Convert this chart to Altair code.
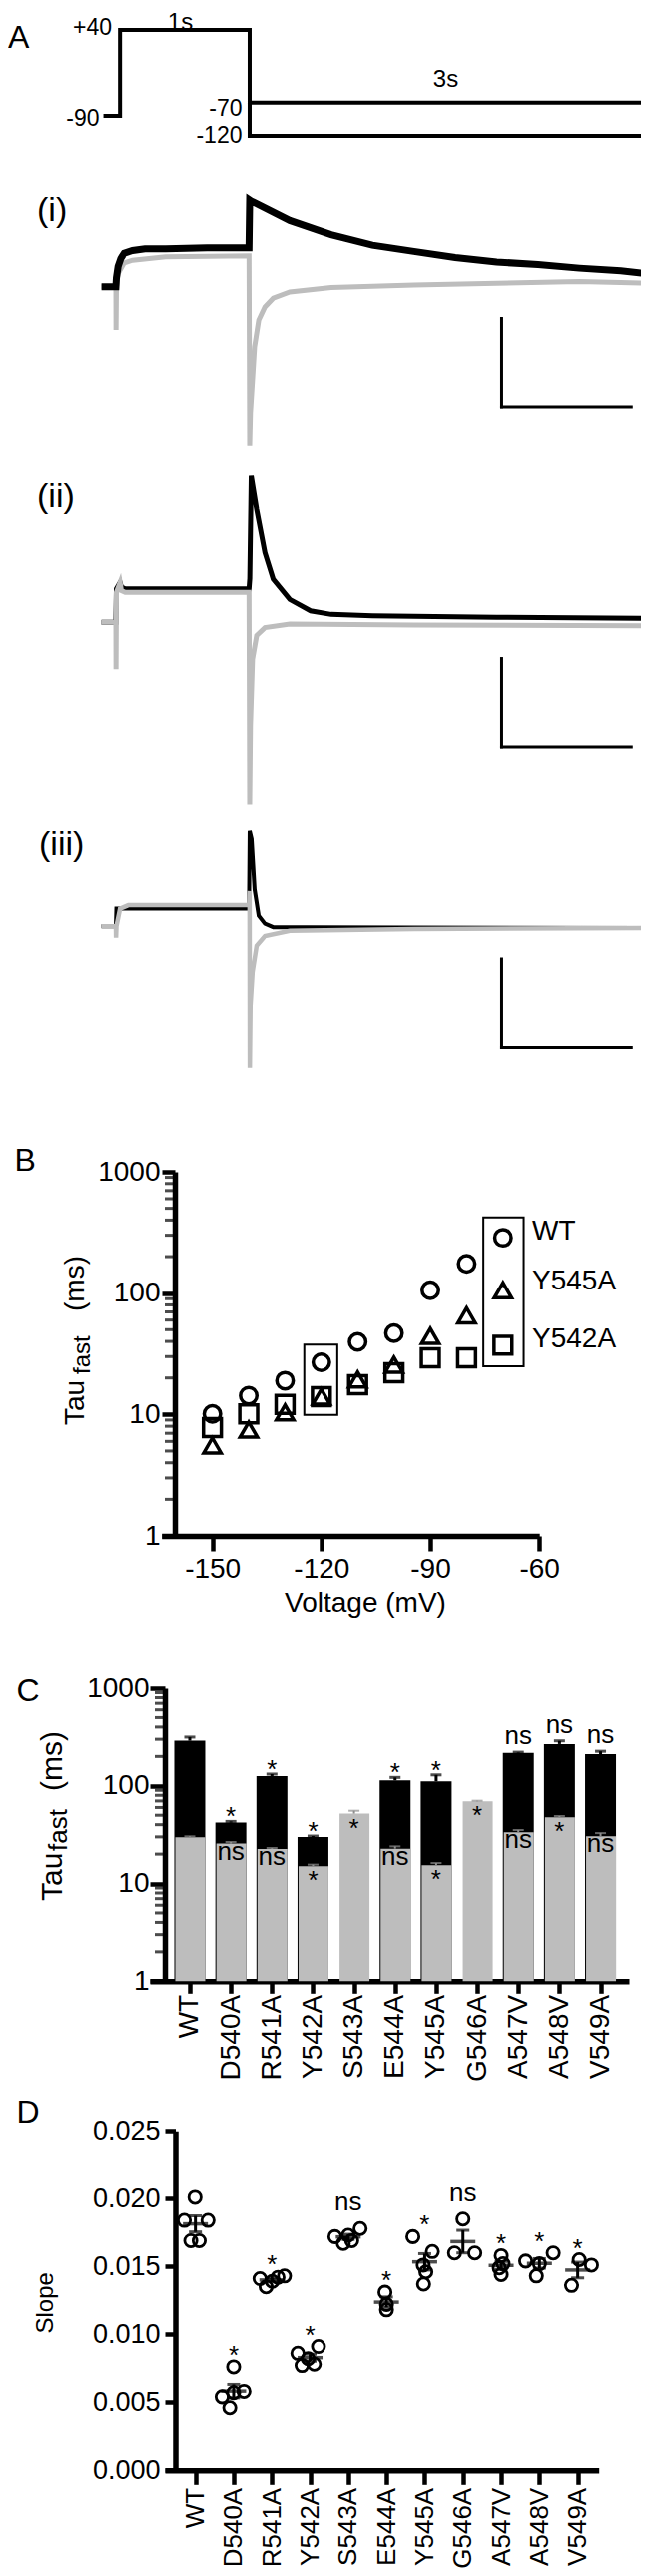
import altair as alt
import pandas as pd

OFF = 8
W = 650 - 2 * OFF
H = 2579 - 2 * OFF
FONT = "Liberation Sans"
GRAY = "#bdbdbd"


def px(v):
    return v - OFF


# ---------------- Panel A: voltage protocol (ms, mV) ----------------
PROT_STEP_T = [-128, 0, 0, 1000, 1000, 4040]
PROT_STEP_V = [-90, -90, 40, 40, -70, -70]
PROT_HYP_T = [1000, 1000, 4040]
PROT_HYP_V = [-70, -120, -120]

# ---------------- Panel A: current traces (ms, current in scale-bar units) ----------------
TR1_BLACK_T = [-143, -32, -28, -15, 6, 32, 96, 192, 351, 671, 995, 1000, 1010, 1054, 1310, 1629, 1948, 2268, 2587, 2907, 3226, 3545, 3865, 4057]
TR1_BLACK_I = [0, 0, 0.10, 0.23, 0.32, 0.38, 0.41, 0.43, 0.43, 0.44, 0.44, 0.98, 0.97, 0.94, 0.75, 0.59, 0.47, 0.40, 0.33, 0.28, 0.25, 0.21, 0.18, 0.15]
TR1_GRAY_T = [-143, -32, -31, -28, -15, 32, 96, 351, 995, 1000, 1006, 1022, 1038, 1070, 1118, 1182, 1310, 1629, 2268, 2907, 3545, 4041, 4051]
TR1_GRAY_I = [0, 0, -0.49, 0.0, 0.15, 0.27, 0.30, 0.34, 0.35, -1.81, -1.43, -1.06, -0.68, -0.38, -0.23, -0.13, -0.06, -0.01, 0.02, 0.04, 0.06, 0.04, -0.15]
TR2_BLACK_T = [-143, -32, -28, 0, 10, 40, 995, 1001, 1012, 1054, 1118, 1182, 1310, 1470, 1629, 1948, 2907, 4041]
TR2_BLACK_I = [0, 0, 0.38, 0.45, 0.40, 0.38, 0.38, 0.50, 1.66, 1.28, 0.79, 0.49, 0.26, 0.13, 0.09, 0.075, 0.057, 0.045]
TR2_GRAY_T = [-143, -32, -31, -28, 0, 10, 40, 995, 1000, 1006, 1022, 1054, 1118, 1310, 2268, 4041, 4051]
TR2_GRAY_I = [0, 0, -0.53, 0.34, 0.45, 0.36, 0.34, 0.34, -2.06, -1.17, -0.42, -0.15, -0.06, -0.02, -0.03, -0.04, -0.23]
TR3_BLACK_T = [-143, -32, -28, 995, 1000, 1015, 1038, 1070, 1118, 1182, 1438, 4041]
TR3_BLACK_I = [0, 0, 0.20, 0.20, 1.08, 0.99, 0.42, 0.12, 0.03, -0.01, -0.01, -0.02]
TR3_GRAY_T = [-143, -32, -31, -28, 0, 64, 995, 999, 1001, 1006, 1022, 1054, 1118, 1310, 2268, 4041, 4051]
TR3_GRAY_I = [0, 0, -0.13, 0.0, 0.20, 0.24, 0.24, 0.40, -1.60, -0.90, -0.52, -0.22, -0.11, -0.05, -0.03, -0.02, -0.09]
SCALEBAR_T = [2945, 3945]          # 1 s horizontal bar
SCALEBAR_TOP = [-0.36, -0.41, -0.37]  # vertical bar = 1 unit

# ---------------- Panel B: tau_fast vs voltage ----------------
VOLTAGES = [-150, -140, -130, -120, -110, -100, -90, -80, -70]
TAU_WT = [10.1, 14.3, 19.0, 26.9, 39.7, 46.8, 105.6, 174.6, 286.0]
TAU_Y545A = [5.55, 7.5, 10.4, 14.0, 19.4, 25.7, 44.4, 65.6, 105.6]
TAU_Y542A = [7.8, 10.1, 12.1, 14.0, 17.6, 22.1, 29.3, 29.3, 37.2]
BOX_M70 = [-75.4, -64.3, 25.0, 420.0]
BOX_M120 = [-124.7, -115.6, 9.9, 37.7]
B_TICKS_X = [-150, -120, -90, -60]
LOG_MAJOR = [1, 10, 100, 1000]
LOG_MINOR = [2, 3, 4, 5, 6, 7, 8, 9, 20, 30, 40, 50, 60, 70, 80, 90, 200, 300, 400, 500, 600, 700, 800, 900]

# ---------------- Panel C: tau at -70 (black) and -120 mV (grey) ----------------
MUTANTS = ['WT', 'D540A', 'R541A', 'Y542A', 'S543A', 'E544A', 'Y545A', 'G546A', 'A547V', 'A548V', 'V549A']
TAU70 = [289.6, 42.0, 126.0, 29.9, None, 113.7, 111.2, None, 218.0, 268.0, 211.0]
TAU70_ERR = [315.8, 43.2, 132.0, 30.6, None, 122.0, 129.5, None, 221.0, 289.0, 226.0]
TAU120 = [29.7, 25.6, 22.6, 15.0, 51.9, 22.7, 15.4, 69.3, 33.4, 47.6, 30.4]
TAU120_ERR = [30.4, 26.6, 23.1, 15.6, 55.6, 24.0, 16.2, 70.4, 35.3, 49.1, 32.8]
SIG70 = ['', '*', '*', '*', '', '*', '*', '', 'ns', 'ns', 'ns']
SIG120 = ['', 'ns', 'ns', '*', '*', 'ns', '*', '*', 'ns', '*', 'ns']

# ---------------- Panel D: slope ----------------
SLOPES = [
    [0.0201, 0.0184, 0.0184, 0.0169, 0.0169],
    [0.0076, 0.0058, 0.0057, 0.0054, 0.0046],
    [0.0141, 0.0135, 0.0142, 0.0143, 0.0139],
    [0.0086, 0.0091, 0.0082, 0.0077, 0.0078],
    [0.0172, 0.0167, 0.0169, 0.0178, 0.0173],
    [0.0131, 0.0122, 0.0118],
    [0.0172, 0.0161, 0.0151, 0.0146, 0.0137],
    [0.0185, 0.0160, 0.0160],
    [0.0158, 0.0152, 0.0149, 0.0144],
    [0.0154, 0.0143, 0.0160, 0.0152],
    [0.0136, 0.0155, 0.0151],
]
JITTER = [
    [-0.01, -0.29, 0.33, -0.12, 0.10],
    [0.0, 0.27, 0.0, -0.30, -0.10],
    [-0.31, -0.15, 0.16, 0.33, 0.01],
    [-0.32, 0.22, -0.05, -0.21, 0.11],
    [-0.35, -0.13, 0.09, 0.31, 0.0],
    [-0.04, 0.0, 0.0],
    [-0.31, 0.20, -0.04, 0.03, -0.03],
    [0.0, -0.22, 0.31],
    [0.0, 0.05, -0.05, 0.0],
    [-0.36, -0.08, 0.36, 0.0],
    [-0.16, 0.04, 0.36],
]
SIGD = ['', '*', '*', '*', 'ns', '*', '*', 'ns', '*', '*', '*']
D_TICKS_Y = [0.0, 0.005, 0.010, 0.015, 0.020, 0.025]

# ================= common styles =================
AX = dict(domainColor='black', domainWidth=5.5, tickColor='black', tickWidth=4.5,
          labelColor='black', labelFont=FONT, grid=False, title=None,
          labelFlush=False, labelOverlap=False)
CAT_EXPR = "[" + ",".join("'%s'" % m for m in MUTANTS) + "][datum.value]"
NEG_EXPR = "datum.value < 0 ? '-' + abs(datum.value) : '' + datum.value"
PLAIN_EXPR = "'' + datum.value"

# ================= Panel A: protocol =================
t_scale = alt.Scale(domain=[-200, 4100], range=[px(94.2), px(652.4)], zero=False, nice=False)
v_scale = alt.Scale(domain=[-130, 50], range=[px(142.5), px(23.4)], zero=False, nice=False)
prot_df = pd.DataFrame({
    'seg': ['step'] * len(PROT_STEP_T) + ['hyp'] * len(PROT_HYP_T),
    't': PROT_STEP_T + PROT_HYP_T,
    'v': PROT_STEP_V + PROT_HYP_V,
    'ord': list(range(len(PROT_STEP_T))) + list(range(len(PROT_HYP_T))),
})
protocol = alt.Chart(prot_df).mark_line(color='black', strokeWidth=4).encode(
    x=alt.X('t:Q', scale=t_scale, axis=None),
    y=alt.Y('v:Q', scale=v_scale, axis=None),
    detail='seg:N', order='ord:Q')

# ================= Panel A: traces =================
PX_PER_UNIT = 88.4


def trace_panel(bt, bi, gt, gi, sb_top, base_page, bw, gw, black_on_top):
    b = px(base_page)
    ys = alt.Scale(domain=[-3, 2], range=[b + 3 * PX_PER_UNIT, b - 2 * PX_PER_UNIT], zero=False, nice=False)
    xe = alt.X('t:Q', scale=t_scale, axis=None)
    ye = alt.Y('i:Q', scale=ys, axis=None)
    black = alt.Chart(pd.DataFrame({'t': bt, 'i': bi, 'ord': range(len(bt))})).mark_line(
        color='black', strokeWidth=bw).encode(x=xe, y=ye, order='ord:Q')
    gray = alt.Chart(pd.DataFrame({'t': gt, 'i': gi, 'ord': range(len(gt))})).mark_line(
        color=GRAY, strokeWidth=gw).encode(x=xe, y=ye, order='ord:Q')
    sb = pd.DataFrame({'t': [SCALEBAR_T[0], SCALEBAR_T[0]], 't2': [SCALEBAR_T[0], SCALEBAR_T[1]],
                       'i': [sb_top, sb_top - 1], 'i2': [sb_top - 1, sb_top - 1]})
    bar = alt.Chart(sb).mark_rule(color='black', strokeWidth=3, strokeCap='square').encode(
        x=xe, x2='t2:Q', y=ye, y2='i2:Q')
    layers = [gray, black] if black_on_top else [black, gray]
    return alt.layer(*layers, bar)


trace1 = trace_panel(TR1_BLACK_T, TR1_BLACK_I, TR1_GRAY_T, TR1_GRAY_I, SCALEBAR_TOP[0], 286.7, 7, 5, True)
trace2 = trace_panel(TR2_BLACK_T, TR2_BLACK_I, TR2_GRAY_T, TR2_GRAY_I, SCALEBAR_TOP[1], 623.3, 5, 5, False)
trace3 = trace_panel(TR3_BLACK_T, TR3_BLACK_I, TR3_GRAY_T, TR3_GRAY_I, SCALEBAR_TOP[2], 927.3, 4, 4.5, False)

# ================= Panel B =================
xB = alt.Scale(domain=[-164, -60], range=[px(161.7), px(540.2)], zero=False, nice=False)
yB = alt.Scale(type='log', domain=[1, 1000], range=[px(1538), px(1173)], nice=False)
axBx = alt.Axis(orient='bottom', offset=px(1538) - H, values=B_TICKS_X, tickSize=15,
                labelFontSize=28, labelPadding=4, labelExpr=NEG_EXPR, **AX)
axBy = alt.Axis(orient='left', offset=-px(175), values=LOG_MAJOR, tickSize=13,
                labelFontSize=28, labelPadding=2, labelExpr=PLAIN_EXPR, **AX)

b_layers = []
for geno, vals, shape, size in [('Y542A', TAU_Y542A, 'square', 320),
                                ('Y545A', TAU_Y545A, 'triangle-up', 300),
                                ('WT', TAU_WT, 'circle', 270)]:
    dfb = pd.DataFrame({'volt': VOLTAGES, 'tau': vals, 'geno': geno})
    b_layers.append(alt.Chart(dfb).mark_point(shape=shape, size=size, filled=False, strokeWidth=3.5,
                                              color='black', opacity=1).encode(
        x=alt.X('volt:Q', scale=xB, axis=axBx), y=alt.Y('tau:Q', scale=yB, axis=axBy)))
box_df = pd.DataFrame({'x1': [BOX_M70[0], BOX_M120[0]], 'x2': [BOX_M70[1], BOX_M120[1]],
                       'y1': [BOX_M70[2], BOX_M120[2]], 'y2': [BOX_M70[3], BOX_M120[3]]})
boxes = alt.Chart(box_df).mark_rect(fillOpacity=0, stroke='black', strokeWidth=2).encode(
    x=alt.X('x1:Q', scale=xB, axis=axBx), x2='x2:Q', y=alt.Y('y1:Q', scale=yB, axis=axBy), y2='y2:Q')
minorB = alt.Chart(pd.DataFrame({'m': LOG_MINOR})).mark_tick(
    orient='horizontal', size=10, thickness=3, color='black').encode(
    x=alt.value(px(170)), y=alt.Y('m:Q', scale=yB, axis=axBy))
panelB = alt.layer(boxes, minorB, *b_layers)

# ================= Panel C =================
xC = alt.Scale(domain=[-0.85, 10.57], range=[px(150), px(630)], zero=False, nice=False)
yC = alt.Scale(type='log', domain=[1, 1000], range=[px(1983.3), px(1690)], nice=False)
axCx = alt.Axis(orient='bottom', offset=px(1983.3) - H, values=list(range(len(MUTANTS))),
                labelExpr=CAT_EXPR, labelAngle=270, labelAlign='right', labelBaseline='middle',
                tickSize=12, labelPadding=1, labelFontSize=28, **AX)
axCy = alt.Axis(orient='left', offset=-px(165), values=LOG_MAJOR, tickSize=15,
                labelFontSize=28, labelPadding=1, labelExpr=PLAIN_EXPR, **AX)
c_df = pd.DataFrame({'idx': range(len(MUTANTS)), 'tau70': TAU70, 'tau70err': TAU70_ERR,
                     'tau120': TAU120, 'tau120err': TAU120_ERR, 'sig70': SIG70, 'sig120': SIG120,
                     'base': 1})
cx = alt.X('idx:Q', scale=xC, axis=axCx)


def cy(f):
    return alt.Y(f, scale=yC, axis=axCy)


cbase = alt.Chart(c_df)
c_black = cbase.transform_filter('isValid(datum.tau70)').mark_bar(color='black', size=31).encode(
    x=cx, y=cy('tau70:Q'), y2='base:Q')
c_black_err = cbase.transform_filter('isValid(datum.tau70)').mark_rule(color='black', strokeWidth=3).encode(
    x=cx, y=cy('tau70:Q'), y2='tau70err:Q')
c_black_cap = cbase.transform_filter('isValid(datum.tau70)').mark_tick(
    orient='horizontal', size=11, thickness=3, color='black').encode(x=cx, y=cy('tau70err:Q'))
c_gray = cbase.mark_bar(color=GRAY, size=30, xOffset=0.5).encode(x=cx, y=cy('tau120:Q'), y2='base:Q')
c_gray_err = cbase.mark_rule(color='#8f8f8f', strokeWidth=2).encode(x=cx, y=cy('tau120:Q'), y2='tau120err:Q')
c_gray_cap = cbase.mark_tick(orient='horizontal', size=11, thickness=2, color='#8f8f8f').encode(
    x=cx, y=cy('tau120err:Q'))
c_txt = dict(font=FONT, fontSize=26, color='black', baseline='alphabetic', align='center')
c_up_star = cbase.transform_filter("datum.sig70 == '*'").mark_text(dy=4, **c_txt).encode(
    x=cx, y=cy('tau70err:Q'), text='sig70:N')
c_up_ns = cbase.transform_filter("datum.sig70 == 'ns'").mark_text(dy=-8, **c_txt).encode(
    x=cx, y=cy('tau70err:Q'), text='sig70:N')
c_dn_star = cbase.transform_filter("datum.sig120 == '*'").mark_text(dy=23, **c_txt).encode(
    x=cx, y=cy('tau120:Q'), text='sig120:N')
c_dn_ns = cbase.transform_filter("datum.sig120 == 'ns'").mark_text(dy=16, **c_txt).encode(
    x=cx, y=cy('tau120:Q'), text='sig120:N')
minorC = alt.Chart(pd.DataFrame({'m': LOG_MINOR})).mark_tick(
    orient='horizontal', size=10, thickness=3, color='black').encode(
    x=alt.value(px(160)), y=alt.Y('m:Q', scale=yC, axis=axCy))
panelC = alt.layer(c_black, c_black_err, c_black_cap, c_gray, c_gray_err, c_gray_cap,
                   minorC, c_up_star, c_up_ns, c_dn_star, c_dn_ns)

# ================= Panel D =================
xD = alt.Scale(domain=[-0.8, 10.55], range=[px(165), px(599.7)], zero=False, nice=False)
yD = alt.Scale(domain=[0, 0.025], range=[px(2473.3), px(2133.3)], zero=False, nice=False)
axDx = alt.Axis(orient='bottom', offset=px(2473.3) - H, values=list(range(len(MUTANTS))),
                labelExpr=CAT_EXPR, labelAngle=270, labelAlign='right', labelBaseline='middle',
                tickSize=14, labelPadding=3, labelFontSize=26, **AX)
axDy = alt.Axis(orient='left', offset=-px(175.5), values=D_TICKS_Y, format='.3f', tickSize=10.5,
                labelFontSize=27, labelPadding=5, **AX)
rows = []
for k, (vals, jit) in enumerate(zip(SLOPES, JITTER)):
    for v, j in zip(vals, jit):
        rows.append({'idx': k, 'slope': v, 'jit': j, 'sig': SIGD[k]})
d_df = pd.DataFrame(rows)
dbase = alt.Chart(d_df)
dx = alt.X('idx:Q', scale=xD, axis=axDx)


def dy_(f):
    return alt.Y(f, scale=yD, axis=axDy)


d_pts = dbase.transform_calculate(xpos='datum.idx + datum.jit').mark_point(
    shape='circle', filled=False, size=150, strokeWidth=2.8, color='black', opacity=1).encode(
    x=alt.X('xpos:Q', scale=xD, axis=axDx), y=dy_('slope:Q'))
d_mean = dbase.transform_aggregate(m='mean(slope)', groupby=['idx']).mark_tick(
    orient='horizontal', size=25, thickness=3.5, color='black').encode(x=dx, y=dy_('m:Q'))
d_sem_base = dbase.transform_aggregate(m='mean(slope)', se='stderr(slope)', groupby=['idx']).transform_calculate(
    lo='datum.m - datum.se', hi='datum.m + datum.se')
d_sem = d_sem_base.mark_rule(color='black', strokeWidth=3).encode(x=dx, y=dy_('lo:Q'), y2='hi:Q')
d_caps = d_sem_base.transform_fold(['lo', 'hi'], as_=['k', 'v']).mark_tick(
    orient='horizontal', size=13, thickness=3, color='black').encode(x=dx, y=dy_('v:Q'))
d_top = dbase.transform_aggregate(top='max(slope)', groupby=['idx', 'sig'])
d_star = d_top.transform_filter("datum.sig == '*'").mark_text(dy=-3, **c_txt).encode(
    x=dx, y=dy_('top:Q'), text='sig:N')
d_ns = d_top.transform_filter("datum.sig == 'ns'").mark_text(dy=-18, **c_txt).encode(
    x=dx, y=dy_('top:Q'), text='sig:N')
panelD = alt.layer(d_sem, d_caps, d_mean, d_pts, d_star, d_ns)

# ================= text annotations =================


def label(text, x, y, size, angle=0, align='left', baseline='alphabetic'):
    return alt.Chart(pd.DataFrame({'t': [text]})).mark_text(
        font=FONT, fontSize=size, angle=angle, align=align, baseline=baseline, color='black').encode(
        x=alt.value(px(x)), y=alt.value(px(y)), text='t:N')


labels = [
    label('A', 8, 48, 32),
    label('+40', 112, 27.5, 23, align='right', baseline='middle'),
    label('-90', 99.5, 118.5, 23, align='right', baseline='middle'),
    label('-70', 242.5, 109, 23, align='right', baseline='middle'),
    label('-120', 242.5, 135.5, 23, align='right', baseline='middle'),
    label('1s', 180.5, 23, 24, align='center', baseline='middle'),
    label('3s', 446.5, 79.5, 24, align='center', baseline='middle'),
    label('(i)', 37, 221, 34),
    label('(ii)', 37, 508, 34),
    label('(iii)', 39, 856, 34),
    label('B', 14.5, 1172, 32),
    label('Tau', 84, 1427, 28, angle=270),
    label('fast', 90, 1376, 24, angle=270),
    label('(ms)', 84, 1313, 28, angle=270),
    label('Voltage (mV)', 366, 1614, 28, align='center'),
    label('WT', 533, 1232.6, 28, baseline='middle'),
    label('Y545A', 533, 1282.5, 28, baseline='middle'),
    label('Y542A', 533, 1341, 28, baseline='middle'),
    label('C', 16.6, 1703, 32),
    label('Tau', 61.5, 1903, 30, angle=270),
    label('fast', 67, 1853, 26, angle=270),
    label('(ms)', 61.5, 1793, 30, angle=270),
    label('D', 16.6, 2125, 32),
    label('Slope', 53, 2305.8, 24, angle=270, align='center'),
]

chart = alt.layer(protocol, trace1, trace2, trace3, panelB, panelC, panelD, *labels).resolve_scale(
    x='independent', y='independent').properties(
    width=W, height=H, padding=0, autosize=alt.AutoSizeParams(type='none')).configure_view(
    stroke=None).configure_text(font=FONT)

chart.save("out.html", embed_options={"renderer": "svg", "actions": False})
